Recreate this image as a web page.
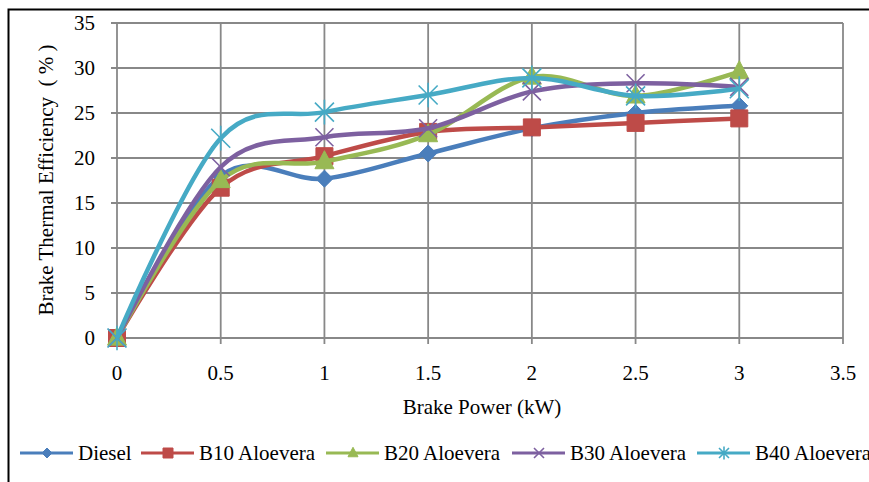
<!DOCTYPE html>
<html>
<head>
<meta charset="utf-8">
<script src="https://cdn.jsdelivr.net/npm/d3@7"></script>
<style>
  body { margin: 0; background: #fff; }
  svg { display: block; }
</style>
</head>
<body>
<div class="chart"></div>
<script>
const brakePower = [0, 0.5, 1, 1.5, 2, 2.5, 3];
const xTicks = [0, 0.5, 1, 1.5, 2, 2.5, 3, 3.5];
const yTicks = [0, 5, 10, 15, 20, 25, 30, 35];

const diesel = [0, 18.0, 17.7, 20.5, 23.3, 25.0, 25.8];
const b10 = [0, 16.7, 20.2, 22.9, 23.4, 23.9, 24.4];
const b20 = [0, 17.5, 19.6, 22.6, 29.0, 26.9, 29.6];
const b30 = [0, 19.0, 22.3, 23.3, 27.4, 28.3, 27.9];
const b40 = [0, 22.2, 25.1, 27.0, 28.9, 26.9, 27.7];

const seriesNames = ["Diesel", "B10 Aloevera", "B20 Aloevera", "B30 Aloevera", "B40 Aloevera"];
const seriesColors = ["#4a7ebb", "#be4b48", "#98b954", "#7d60a0", "#46aac5"];
const seriesMarkers = ["diamond", "square", "triangle", "x", "star"];

const width = 869;
const height = 482;
const margin = { top: 23, right: 26, bottom: 144, left: 117 };
const fontFamily = "'Times New Roman', 'Liberation Serif', 'DejaVu Serif', serif";

const svg = d3
  .select(".chart")
  .append("svg")
  .attr("width", width)
  .attr("height", height)
  .attr("font-family", fontFamily)
  .style("font-family", fontFamily);

// outer frame (cropped on the right and bottom)
svg
  .append("rect")
  .attr("x", 8.5)
  .attr("y", 9.5)
  .attr("width", 1000)
  .attr("height", 1000)
  .attr("fill", "none")
  .attr("stroke", "#000")
  .attr("stroke-width", 2);

const x = d3
  .scaleLinear()
  .domain([0, 3.5])
  .range([margin.left, width - margin.right]);

const y = d3
  .scaleLinear()
  .domain([0, 35])
  .range([height - margin.bottom, margin.top]);

// grid
const grid = svg.append("g").attr("stroke", "#888").attr("stroke-width", 1.8);
yTicks.forEach((t) => {
  grid
    .append("line")
    .attr("x1", x(0) - 6)
    .attr("x2", x(3.5))
    .attr("y1", y(t))
    .attr("y2", y(t));
});
xTicks.forEach((t) => {
  grid
    .append("line")
    .attr("x1", x(t))
    .attr("x2", x(t))
    .attr("y1", y(35))
    .attr("y2", y(0) + 6);
});

// tick labels
svg
  .append("g")
  .selectAll("text")
  .data(yTicks)
  .join("text")
  .attr("x", x(0) - 22)
  .attr("y", (d) => y(d) + 7)
  .attr("text-anchor", "end")
  .attr("font-size", 21)
  .text((d) => d);

svg
  .append("g")
  .selectAll("text")
  .data(xTicks)
  .join("text")
  .attr("x", (d) => x(d))
  .attr("y", y(0) + 42)
  .attr("text-anchor", "middle")
  .attr("font-size", 21)
  .text((d) => d);

// axis titles
svg
  .append("text")
  .attr("x", 482)
  .attr("y", 414)
  .attr("text-anchor", "middle")
  .attr("font-size", 21)
  .text("Brake Power (kW)");

svg
  .append("text")
  .attr("transform", `translate(53,180) rotate(-90)`)
  .attr("text-anchor", "middle")
  .attr("font-size", 21)
  .text("Brake Thermal Efficiency\u00a0 (\u00a0%\u00a0)");

function markerPath(kind, s) {
  const p = d3.path();
  if (kind === "diamond") {
    p.moveTo(0, -s);
    p.lineTo(s, 0);
    p.lineTo(0, s);
    p.lineTo(-s, 0);
    p.closePath();
  } else if (kind === "square") {
    p.rect(-s, -s, 2 * s, 2 * s);
  } else if (kind === "triangle") {
    p.moveTo(0, -s * 1.15);
    p.lineTo(s, s * 0.75);
    p.lineTo(-s, s * 0.75);
    p.closePath();
  } else if (kind === "x") {
    p.moveTo(-s, -s);
    p.lineTo(s, s);
    p.moveTo(s, -s);
    p.lineTo(-s, s);
  } else {
    p.moveTo(-s, -s);
    p.lineTo(s, s);
    p.moveTo(s, -s);
    p.lineTo(-s, s);
    p.moveTo(0, -s * 1.3);
    p.lineTo(0, s * 1.3);
  }
  return p.toString();
}

function drawMarker(g, kind, color, cx, cy, size) {
  const open = kind === "x" || kind === "star";
  g.append("path")
    .attr("d", markerPath(kind, size))
    .attr("transform", `translate(${cx},${cy})`)
    .attr("fill", open ? "none" : color)
    .attr("stroke", color)
    .attr("stroke-width", open ? 1.6 : 1);
}

const line = d3
  .line()
  .x((d, i) => x(brakePower[i]))
  .y((d) => y(d))
  .curve(d3.curveCardinal.tension(0));

const allSeries = [diesel, b10, b20, b30, b40];
const markerSize = [8.5, 8.5, 9.5, 9, 9.5];

allSeries.forEach((vals, k) => {
  const g = svg.append("g");
  g.append("path")
    .attr("d", line(vals))
    .attr("fill", "none")
    .attr("stroke", seriesColors[k])
    .attr("stroke-width", 4.5)
    .attr("stroke-linejoin", "round");
  vals.forEach((v, i) => {
    drawMarker(g, seriesMarkers[k], seriesColors[k], x(brakePower[i]), y(v), markerSize[k]);
  });
});

// legend
const legendX = [20, 141, 326, 512, 697];
const legendY = 453;
const legend = svg.append("g");
seriesNames.forEach((name, k) => {
  const lg = legend.append("g");
  lg.append("line")
    .attr("x1", legendX[k])
    .attr("x2", legendX[k] + 53)
    .attr("y1", legendY)
    .attr("y2", legendY)
    .attr("stroke", seriesColors[k])
    .attr("stroke-width", 3);
  drawMarker(lg, seriesMarkers[k], seriesColors[k], legendX[k] + 27, legendY, 5);
  lg.append("text")
    .attr("x", legendX[k] + 58)
    .attr("y", 460)
    .attr("font-size", 21)
    .text(name);
});
</script>
</body>
</html>
